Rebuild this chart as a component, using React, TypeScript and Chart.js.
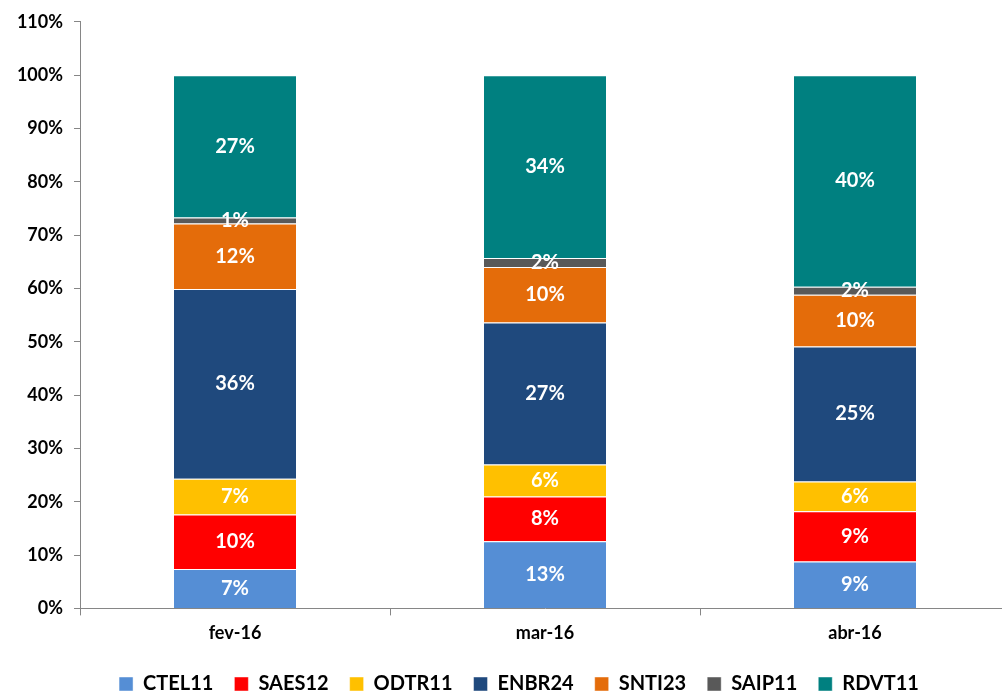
import React, { useEffect, useRef } from "react";
import { Chart, registerables } from "chart.js";

Chart.register(...registerables);

const categories = ["fev-16", "mar-16", "abr-16"];
const seriesNames = ["CTEL11", "SAES12", "ODTR11", "ENBR24", "SNTI23", "SAIP11", "RDVT11"];
const ctel11 = [7.4, 12.6, 8.8];
const saes12 = [10.2, 8.4, 9.4];
const odtr11 = [6.7, 6.0, 5.6];
const enbr24 = [35.6, 26.6, 25.3];
const snti23 = [12.3, 10.4, 9.7];
const saip11 = [1.1, 1.7, 1.5];
const rdvt11 = [26.7, 34.3, 39.7];
const seriesColors = ["#558ED5", "#FF0000", "#FFC000", "#1F497D", "#E46C0A", "#595959", "#008080"];
const yTicks = [0, 10, 20, 30, 40, 50, 60, 70, 80, 90, 100, 110];

const FONT = "Lato, 'Open Sans', sans-serif";
const CANVAS_W = 1012;

const labelPlugin = {
  id: "segLabels",
  afterUpdate(chart: any) {
    const lg = chart.legend;
    if (lg) {
      lg.left += 14;
      lg.right += 14;
      if (lg.adjustHitBoxes) lg.adjustHitBoxes();
    }
  },
  afterDatasetsDraw(chart: any) {
    const ctx = chart.ctx;
    ctx.save();
    ctx.fillStyle = "#FFFFFF";
    ctx.font = `bold 20px ${FONT}`;
    ctx.textAlign = "center";
    ctx.textBaseline = "middle";
    chart.data.datasets.forEach((ds: any, di: number) => {
      const meta = chart.getDatasetMeta(di);
      meta.data.forEach((bar: any, i: number) => {
        const v = ds.data[i];
        const y = (bar.y + bar.base) / 2;
        ctx.fillText(Math.round(v) + "%", bar.x, y);
      });
    });
    ctx.restore();
  },
};

export default function App() {
  const ref = useRef<HTMLCanvasElement | null>(null);
  useEffect(() => {
    const all = [ctel11, saes12, odtr11, enbr24, snti23, saip11, rdvt11];
    const chart = new Chart(ref.current as HTMLCanvasElement, {
      type: "bar",
      data: {
        labels: categories,
        datasets: all.map((d, i) => ({
          label: seriesNames[i],
          data: d,
          backgroundColor: seriesColors[i],
          borderColor: "rgba(255,255,255,0.45)",
          borderWidth: 1,
          categoryPercentage: 1,
          barPercentage: 0.4,
        })),
      },
      options: {
        responsive: false,
        animation: false,
        layout: { padding: { left: 0, right: 2, top: 12, bottom: -8 } },
        plugins: {
          tooltip: { enabled: false },
          legend: {
            position: "bottom",
            labels: {
              color: "#000",
              font: { family: FONT, size: 20, weight: "bold" },
              boxWidth: 14,
              boxHeight: 14,
              padding: 21,
            },
          },
        },
        scales: {
          x: {
            stacked: true,
            afterFit: (s: any) => { s.height += 2; },
            border: { color: "#868686", width: 1 },
            grid: { drawOnChartArea: false, drawTicks: true, tickLength: 7, color: "#868686", offset: true },
            ticks: { color: "#000", font: { family: FONT, size: 18, weight: "bold" }, padding: 7 },
          },
          y: {
            stacked: true,
            min: 0,
            max: 110,
            afterFit: (s: any) => { s.width = 80; },
            afterBuildTicks: (s: any) => { s.ticks = yTicks.map((v) => ({ value: v })); },
            border: { color: "#868686", width: 1 },
            grid: { drawOnChartArea: false, drawTicks: true, tickLength: 6, color: "#868686" },
            ticks: {
              color: "#000",
              font: { family: FONT, size: 18, weight: "bold" },
              padding: 11,
              callback: (v: any) => v + "%",
            },
          },
        },
      },
      plugins: [labelPlugin],
    } as any);
    return () => chart.destroy();
  }, []);
  return (
    <div style={{ position: "fixed", left: 0, top: 0, width: 1002, height: 696, overflow: "hidden", background: "#fff" }}>
      <canvas ref={ref} width={CANVAS_W} height={696} style={{ width: CANVAS_W, height: 696 }} />
    </div>
  );
}
